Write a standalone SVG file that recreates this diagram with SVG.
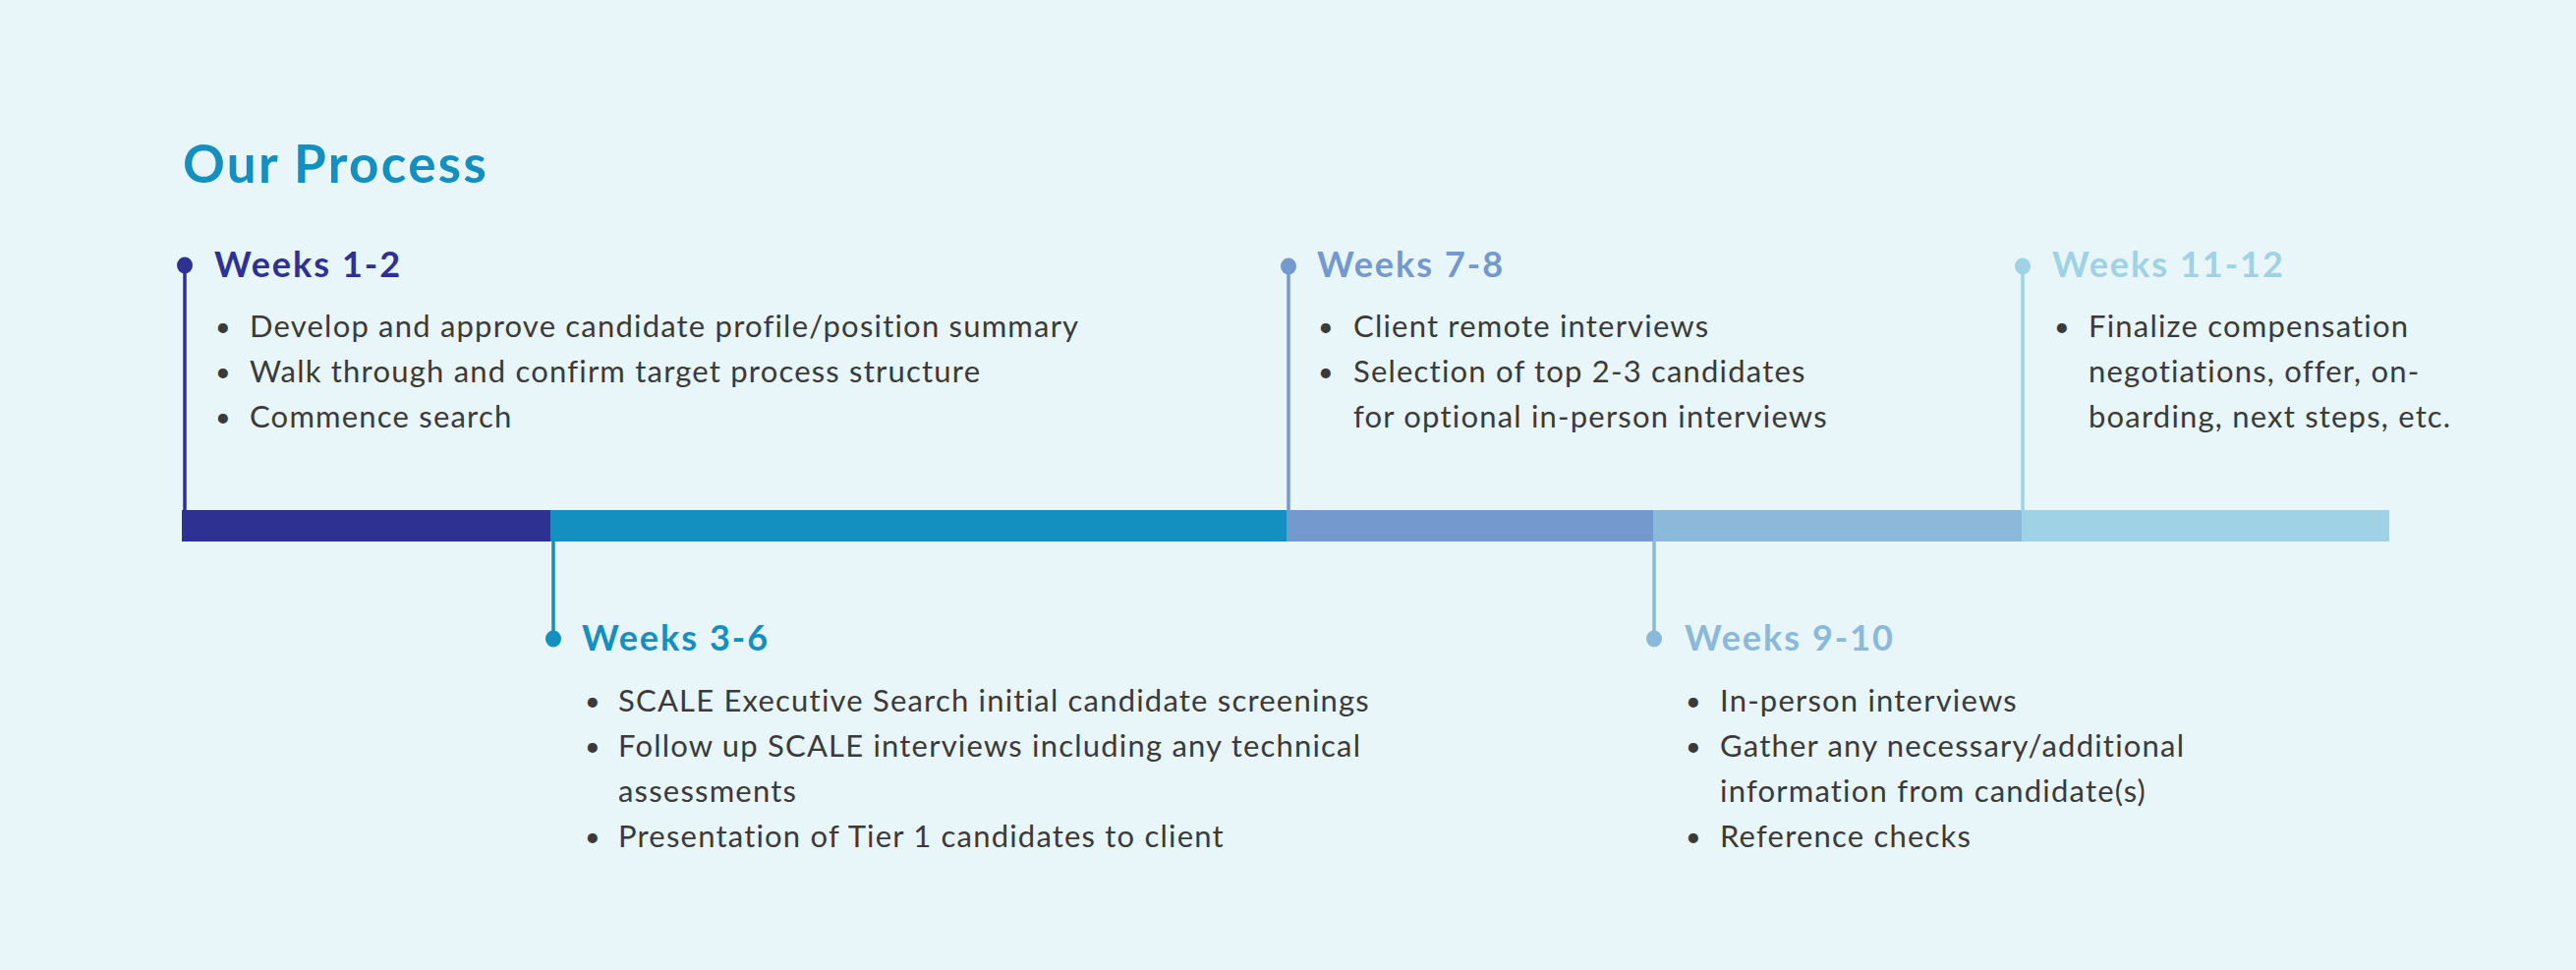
<svg xmlns="http://www.w3.org/2000/svg" width="2621" height="987" viewBox="0 0 2621 987">
<style>
.title{font-family:Lato,"Liberation Sans",sans-serif;font-weight:700;font-size:53px;letter-spacing:2.3px;fill:#1390C0}
.head{font-family:Lato,"Liberation Sans",sans-serif;font-weight:700;font-size:36px;letter-spacing:2px}
.body{font-family:Lato,"Liberation Sans",sans-serif;font-size:31px;letter-spacing:1.2px;fill:#3A3A3A}
.bul{font-family:Lato,"Liberation Sans",sans-serif;font-size:27px;fill:#3A3A3A}
.conn{stroke-width:3.5;fill:none}
</style>
<rect width="2621" height="987" fill="#E8F5F9"/>
<text class="title" x="186" y="186">Our Process</text>
<g id="timeline">
<rect x="185" y="519" width="375" height="32" fill="#2E3192"/>
<rect x="560" y="519" width="749" height="32" fill="#138FC0"/>
<rect x="1309" y="519" width="373" height="32" fill="#7399CF"/>
<rect x="1682" y="519" width="375" height="32" fill="#8AB9DA"/>
<rect x="2057" y="519" width="374" height="32" fill="#A0D2E5"/>
</g>
<g id="connectors">
<line class="conn" x1="188" y1="270" x2="188" y2="520" stroke="#2E3192"/>
<line class="conn" x1="563" y1="550" x2="563" y2="650" stroke="#138FC0"/>
<line class="conn" x1="1311" y1="271" x2="1311" y2="520" stroke="#7399CF"/>
<line class="conn" x1="1683" y1="550" x2="1683" y2="650" stroke="#8AB9DA"/>
<line class="conn" x1="2058" y1="271" x2="2058" y2="520" stroke="#A0D2E5"/>
</g>
<g id="weeks-1-2">
<ellipse cx="188" cy="270" rx="8" ry="8.5" fill="#2E3192"/>
<text class="head" x="218" y="282" fill="#2E3192">Weeks 1-2</text>
<text class="bul" x="219" y="342">•</text><text class="body" x="254" y="343">Develop and approve candidate profile/position summary</text>
<text class="bul" x="219" y="388">•</text><text class="body" x="254" y="389">Walk through and confirm target process structure</text>
<text class="bul" x="219" y="434">•</text><text class="body" x="254" y="435">Commence search</text>
</g>
<g id="weeks-3-6">
<ellipse cx="563" cy="650" rx="8" ry="8.5" fill="#138FC0"/>
<text class="head" x="592" y="662" fill="#138FC0">Weeks 3-6</text>
<text class="bul" x="595" y="723">•</text><text class="body" x="629" y="724">SCALE Executive Search initial candidate screenings</text>
<text class="bul" x="595" y="769">•</text><text class="body" x="629" y="770">Follow up SCALE interviews including any technical</text>
<text class="body" x="629" y="816">assessments</text>
<text class="bul" x="595" y="861">•</text><text class="body" x="629" y="862">Presentation of Tier 1 candidates to client</text>
</g>
<g id="weeks-7-8">
<ellipse cx="1311" cy="271" rx="8" ry="8.5" fill="#7399CF"/>
<text class="head" x="1340" y="282" fill="#7399CF">Weeks 7-8</text>
<text class="bul" x="1341" y="342">•</text><text class="body" x="1377" y="343">Client remote interviews</text>
<text class="bul" x="1341" y="388">•</text><text class="body" x="1377" y="389">Selection of top 2-3 candidates</text>
<text class="body" x="1377" y="435">for optional in-person interviews</text>
</g>
<g id="weeks-9-10">
<ellipse cx="1683" cy="650" rx="8" ry="8.5" fill="#8AB9DA"/>
<text class="head" x="1714" y="662" fill="#8AB9DA">Weeks 9-10</text>
<text class="bul" x="1715" y="723">•</text><text class="body" x="1750" y="724">In-person interviews</text>
<text class="bul" x="1715" y="769">•</text><text class="body" x="1750" y="770">Gather any necessary/additional</text>
<text class="body" x="1750" y="816">information from candidate(s)</text>
<text class="bul" x="1715" y="861">•</text><text class="body" x="1750" y="862">Reference checks</text>
</g>
<g id="weeks-11-12">
<ellipse cx="2058" cy="271" rx="8" ry="8.5" fill="#A0D2E5"/>
<text class="head" x="2088" y="282" fill="#A0D2E5">Weeks 11-12</text>
<text class="bul" x="2090" y="342">•</text><text class="body" x="2125" y="343">Finalize compensation</text>
<text class="body" x="2125" y="389">negotiations, offer, on-</text>
<text class="body" x="2125" y="435">boarding, next steps, etc.</text>
</g>
</svg>
